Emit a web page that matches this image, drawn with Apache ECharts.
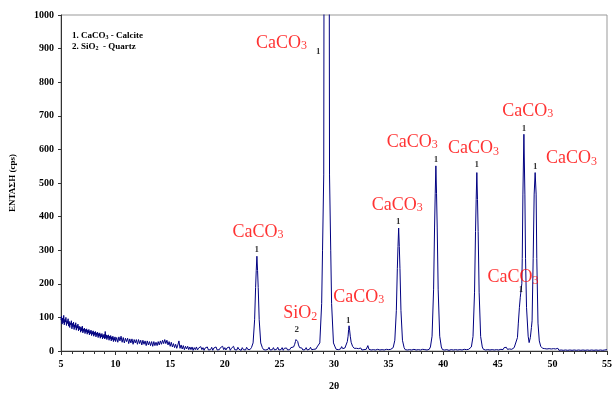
<!DOCTYPE html>
<html>
<head>
<meta charset="utf-8">
<script src="https://cdn.jsdelivr.net/npm/echarts@6/dist/echarts.min.js"></script>
<style>
  html, body { margin: 0; padding: 0; background: #fff; }
  #chart { width: 615px; height: 396px; }
</style>
</head>
<body>
<div id="chart"></div>
<script>
// XRD pattern: [2θ, cps]
var pattern = [
  // low-angle background
  [5.00,92],[5.05,104],[5.10,80],[5.15,98],[5.20,84],[5.25,106],[5.30,78],[5.35,94],[5.40,86],[5.45,100],
  [5.50,76],[5.55,90],[5.60,82],[5.65,96],[5.70,74],[5.75,88],[5.80,70],[5.85,84],[5.90,78],[5.95,90],
  [6.00,66],[6.05,82],[6.10,72],[6.15,86],[6.20,64],[6.25,78],[6.30,70],[6.35,84],[6.40,62],[6.45,76],
  [6.50,68],[6.55,80],[6.60,60],[6.65,74],[6.70,64],[6.75,72],[6.80,56],[6.85,70],[6.90,60],[6.95,74],
  [7.00,54],[7.05,66],[7.10,58],[7.15,68],[7.20,52],[7.25,64],[7.30,56],[7.35,66],[7.40,50],[7.45,62],
  [7.50,54],[7.55,64],[7.60,48],[7.65,60],[7.70,52],[7.75,62],[7.80,46],[7.85,58],[7.90,50],[7.95,60],
  [8.00,44],[8.05,56],[8.10,48],[8.15,58],[8.20,42],[8.25,54],[8.30,46],[8.35,56],[8.40,40],[8.45,52],
  [8.50,44],[8.55,54],[8.60,38],[8.65,50],[8.70,42],[8.75,52],[8.80,36],[8.85,48],[8.90,40],[8.95,50],
  [9.00,36],[9.05,58],[9.10,38],[9.15,48],[9.20,34],[9.25,46],[9.30,38],[9.35,48],[9.40,32],[9.45,44],
  [9.50,36],[9.55,46],[9.60,30],[9.65,42],[9.70,34],[9.75,44],[9.80,28],[9.85,40],[9.90,32],[9.95,42],
  [10.0,28],[10.1,40],[10.2,26],[10.3,42],[10.4,30],[10.5,44],[10.6,26],[10.7,40],[10.8,24],[10.9,38],
  [11.0,28],[11.1,38],[11.2,22],[11.3,36],[11.4,24],[11.5,36],[11.6,20],[11.7,34],[11.8,24],[11.9,34],
  [12.0,20],[12.1,34],[12.2,22],[12.3,32],[12.4,18],[12.5,32],[12.6,20],[12.7,30],[12.8,16],[12.9,30],
  [13.0,18],[13.1,28],[13.2,16],[13.3,28],[13.4,14],[13.5,28],[13.6,16],[13.7,26],[13.8,16],[13.9,28],
  [14.0,18],[14.1,30],[14.2,20],[14.3,32],[14.4,22],[14.5,34],[14.6,22],[14.7,32],[14.8,18],[14.9,28],
  [15.0,14],[15.1,26],[15.2,12],[15.3,22],[15.4,10],[15.5,20],[15.6,8],[15.7,18],[15.8,30],[15.9,8],
  [16.0,18],[16.1,6],[16.2,16],[16.3,4],[16.4,14],[16.5,6],[16.6,14],[16.7,4],[16.8,12],[16.9,4],
  [17.0,12],[17.1,2],[17.2,10],[17.3,4],[17.4,12],[17.5,3],[17.6,9],[17.7,5],[17.8,13],[17.9,4],
  [18.0,10],[18.1,2],[18.2,9],[18.3,5],[18.4,12],[18.5,3],[18.6,8],[18.7,4],[18.8,11],[18.9,2],
  [19.0,9],[19.1,5],[19.2,12],[19.3,3],[19.4,8],[19.5,4],[19.6,10],[19.7,6],[19.8,14],[19.9,4],
  [20.0,10],[20.1,3],[20.2,9],[20.3,5],[20.4,12],[20.5,2],[20.6,8],[20.7,6],[20.8,14],[20.9,4],
  [21.0,9],[21.1,3],[21.2,11],[21.3,5],[21.4,8],[21.5,2],[21.6,10],[21.7,4],[21.8,9],[21.9,3],
  [22.0,11],[22.1,5],[22.2,8],[22.3,4],
  // calcite 23.0
  [22.44,10],[22.59,24],[22.73,93],[22.82,189],[22.88,240],[22.94,282],[23.0,240],[23.06,189],[23.15,93],[23.29,24],[23.44,10],
  [23.55,4],[23.65,9],[23.75,3],[23.85,8],[23.95,5],[24.05,11],[24.15,3],[24.25,8],[24.35,4],[24.45,10],
  [24.55,3],[24.65,7],[24.75,5],[24.85,11],[24.95,3],[25.05,8],[25.15,4],[25.25,10],[25.35,2],[25.45,8],
  [25.55,5],[25.65,9],[25.75,3],[25.85,8],[25.95,4],[26.05,10],
  // quartz 26.6
  [26.2,8],[26.3,12],[26.4,20],[26.47,28],[26.52,34],[26.57,37],[26.62,34],[26.68,28],[26.75,18],[26.85,10],[26.95,6],
  [27.05,9],[27.15,3],[27.25,8],[27.35,4],[27.45,10],[27.55,3],[27.65,8],[27.75,5],[27.85,11],[27.95,4],
  [28.05,9],[28.15,5],[28.25,10],[28.35,6],[28.45,12],
  // calcite 29.4 (off scale)
  [28.55,12],[28.7,24],[28.87,141],[28.95,300],[29.06,524],[29.08,1000],[29.15,2500],[29.32,3400],[29.5,2500],[29.57,1000],
  [29.59,524],[29.7,300],[29.78,141],[29.95,24],[30.1,12],
  [30.2,5],[30.3,9],[30.4,4],[30.5,8],[30.6,6],[30.7,13],[30.8,7],[30.9,10],
  // calcite 31.4
  [31.0,9],[31.1,14],[31.22,28],[31.29,44],[31.34,64],[31.38,75],[31.43,62],[31.49,44],[31.57,26],[31.7,14],[31.85,8],
  [31.95,4],[32.05,8],[32.15,3],[32.25,7],[32.35,4],[32.45,9],[32.55,3],[32.65,7],[32.75,4],[32.85,8],
  [32.95,5],[33.05,10],[33.1,16],[33.2,5],[33.3,8],[33.4,3],[33.5,7],[33.6,4],[33.7,9],[33.8,3],
  [33.9,7],[34.0,5],[34.1,8],[34.2,3],[34.3,7],[34.4,4],[34.5,9],[34.6,3],[34.7,8],[34.8,5],
  [34.9,9],[35.0,4],[35.1,8],[35.2,5],[35.3,10],
  // calcite 36.0
  [35.42,10],[35.57,32],[35.71,121],[35.8,245],[35.86,311],[35.92,366],[35.98,311],[36.04,245],[36.13,121],[36.27,32],[36.42,10],
  [36.52,4],[36.62,8],[36.72,3],[36.82,7],[36.92,4],[37.02,8],[37.12,3],[37.22,7],[37.32,5],[37.42,9],
  [37.52,3],[37.62,7],[37.72,4],[37.82,8],[37.92,3],[38.02,7],[38.12,5],[38.22,9],[38.32,4],[38.42,8],
  [38.52,3],[38.62,8],[38.72,5],
  // calcite 39.4
  [38.83,12],[38.98,44],[39.12,182],[39.21,369],[39.27,468],[39.33,551],[39.39,468],[39.45,369],[39.54,182],[39.68,44],[39.83,12],
  [39.93,4],[40.03,7],[40.13,3],[40.23,8],[40.33,4],[40.43,7],[40.53,2],[40.63,6],[40.73,4],[40.83,8],
  [40.93,3],[41.03,7],[41.13,4],[41.23,8],[41.33,3],[41.43,6],[41.53,4],[41.63,8],[41.73,3],[41.83,7],
  [41.93,5],[42.03,9],[42.13,4],[42.23,8],[42.33,5],[42.43,10],
  // calcite 43.2
  [42.58,12],[42.73,43],[42.87,175],[42.96,356],[43.02,451],[43.08,531],[43.14,451],[43.2,356],[43.29,175],[43.43,43],[43.58,12],
  [43.68,5],[43.78,8],[43.88,3],[43.98,7],[44.08,4],[44.18,8],[44.28,3],[44.38,6],[44.48,4],[44.58,8],
  [44.68,3],[44.78,7],[44.88,4],[44.98,8],[45.08,3],[45.18,7],[45.28,5],[45.38,9],[45.48,4],[45.58,10],
  [45.68,6],[45.78,11],[45.88,5],[45.98,9],[46.08,6],[46.18,10],[46.28,5],[46.38,9],
  // calcite 47.1 / 47.5 / 48.5
  [46.5,10],[46.67,15],[46.8,40],[46.88,83],[46.98,130],[47.06,160],[47.1,172],[47.15,168],[47.2,200],[47.24,275],
  [47.3,467],[47.39,645],[47.48,467],[47.54,275],[47.63,130],[47.78,44],[47.87,25],[47.98,40],[48.08,70],[48.14,90],
  [48.24,275],[48.33,467],[48.42,531],[48.51,467],[48.57,275],[48.68,83],[48.8,30],[48.93,14],[49.1,8],
  [49.2,3],[49.3,7],[49.4,2],[49.5,6],[49.6,3],[49.7,7],[49.8,2],[49.9,6],[50.0,3],[50.1,7],
  [50.2,2],[50.3,6],[50.4,3],[50.5,8],[50.6,2],[50.7,6],[50.8,3],[50.9,7],[51.0,2],[51.1,6],
  [51.2,3],[51.3,7],[51.4,2],[51.5,5],[51.6,3],[51.7,7],[51.8,2],[51.9,6],[52.0,3],[52.1,7],
  [52.2,2],[52.3,6],[52.4,3],[52.5,7],[52.6,2],[52.7,5],[52.8,3],[52.9,7],[53.0,2],[53.1,6],
  [53.2,3],[53.3,7],[53.4,2],[53.5,6],[53.6,3],[53.7,7],[53.8,2],[53.9,6],[54.0,3],[54.1,7],
  [54.2,2],[54.3,6],[54.4,3],[54.5,7],[54.6,2],[54.7,6],[54.8,3],[54.9,7],[55.0,4]
];

// phase numbers above the peaks: [2θ, cps, text]
var peakMarks = [
  [22.93, 302, '1'], [26.6, 63, '2'], [28.55, 890, '1'], [31.3, 90, '1'],
  [35.89, 386, '1'], [39.33, 568, '1'], [43.07, 556, '1'], [47.13, 182, '1'],
  [47.39, 663, '1'], [48.44, 548, '1']
];

// compound names: [2θ, cps, formula, subscript]
var compoundLabels = [
  [23.03, 357, 'CaCO', '3'], [26.92, 115, 'SiO', '2'], [25.2, 919, 'CaCO', '3'],
  [32.26, 164, 'CaCO', '3'], [35.8, 438, 'CaCO', '3'], [37.16, 625, 'CaCO', '3'],
  [42.77, 605, 'CaCO', '3'], [46.4, 222, 'CaCO', '3'], [47.75, 717, 'CaCO', '3'],
  [51.74, 576, 'CaCO', '3']
];

var serif = '"Times New Roman", "Liberation Serif", serif';

var myChart = echarts.init(document.getElementById('chart'));
myChart.setOption({
  backgroundColor: '#fff',
  animation: false,
  grid: {
    left: 60, right: 3, top: 15, bottom: 34,
    show: true, borderColor: '#999', borderWidth: 1
  },
  graphic: [{
    type: 'text', left: 72, top: 31,
    style: {
      text: '{t|1. CaCO}{s|3}{t| - Calcite}\n{t|2. SiO}{s|2}{t|  - Quartz}',
      rich: {
        t: { fontFamily: serif, fontWeight: 'bold', fontSize: 9, lineHeight: 11, verticalAlign: 'bottom', fill: '#000' },
        s: { fontFamily: serif, fontWeight: 'bold', fontSize: 6, lineHeight: 11, verticalAlign: 'bottom', fill: '#000' }
      }
    }
  }],
  xAxis: {
    type: 'value', min: 5, max: 55, interval: 5,
    name: '2θ', nameLocation: 'middle', nameGap: 30,
    nameTextStyle: { fontFamily: serif, fontWeight: 'bold', fontSize: 10, color: '#000' },
    axisLine: { lineStyle: { color: '#333', width: 1 } },
    axisTick: { length: 4, lineStyle: { color: '#333' } },
    minorTick: { show: true, splitNumber: 5, length: 3, lineStyle: { color: '#333' } },
    splitLine: { show: false },
    axisLabel: { fontFamily: serif, fontWeight: 'bold', fontSize: 10, color: '#000', margin: 8 }
  },
  yAxis: {
    type: 'value', min: 0, max: 1000, interval: 100,
    name: 'ΕΝΤΑΣΗ (cps)', nameLocation: 'middle', nameGap: 44, nameRotate: 90,
    nameTextStyle: { fontFamily: serif, fontWeight: 'bold', fontSize: 9, color: '#000' },
    axisLine: { show: true, lineStyle: { color: '#333', width: 1 } },
    axisTick: { show: true, length: 3, lineStyle: { color: '#333' } },
    splitLine: { show: false },
    axisLabel: {
      fontFamily: serif, fontWeight: 'bold', fontSize: 10, color: '#000', margin: 7,
      formatter: function (v) { return String(v); }
    }
  },
  series: [
    {
      type: 'line',
      data: pattern,
      showSymbol: false,
      clip: true,
      lineStyle: { color: '#000080', width: 1 },
      z: 2
    },
    {
      type: 'scatter',
      data: peakMarks,
      symbolSize: 0,
      clip: false,
      silent: true,
      label: {
        show: true, position: 'inside',
        formatter: function (p) { return p.data[2]; },
        fontFamily: serif, fontWeight: 'bold', fontSize: 9, color: '#000'
      },
      z: 3
    },
    {
      type: 'scatter',
      data: compoundLabels,
      symbolSize: 0,
      clip: false,
      silent: true,
      label: {
        show: true, position: 'inside',
        formatter: function (p) { return '{a|' + p.data[2] + '}{s|' + p.data[3] + '}'; },
        rich: {
          a: { fontFamily: serif, fontSize: 18, color: '#ff0000', lineHeight: 20, verticalAlign: 'bottom' },
          s: { fontFamily: serif, fontSize: 12, color: '#ff0000', lineHeight: 20, verticalAlign: 'bottom' }
        }
      },
      z: 4
    }
  ]
});
</script>
</body>
</html>
